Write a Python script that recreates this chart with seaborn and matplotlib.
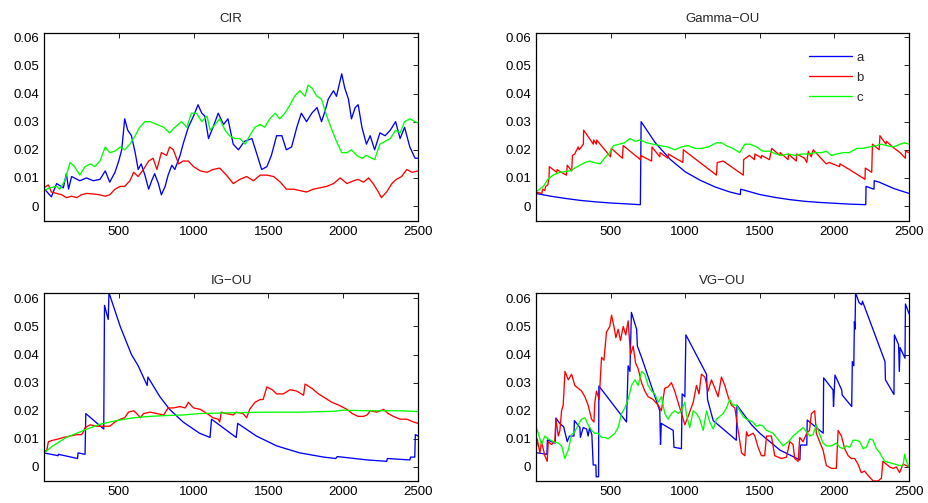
import numpy as np
import pandas as pd
import matplotlib
matplotlib.use("Agg")
import matplotlib.pyplot as plt
import seaborn as sns

# ---------------- CIR ----------------
cir_a_t = [0, 50, 85, 130, 150, 165, 185, 240, 285, 330, 375, 410, 440, 475, 500, 520, 540, 560, 585, 610,
           630, 650, 675, 700, 720, 740, 765, 785, 810, 830, 855, 875, 910, 930, 965, 1000, 1030, 1055, 1075,
           1100, 1130, 1165, 1200, 1230, 1265, 1300, 1340, 1390, 1420, 1455, 1490, 1520, 1555, 1590, 1620,
           1655, 1690, 1720, 1755, 1790, 1825, 1855, 1880, 1900, 1935, 1955, 1990, 2010, 2035, 2055, 2080,
           2100, 2125, 2155, 2180, 2210, 2245, 2280, 2315, 2350, 2380, 2410, 2445, 2480, 2500]
cir_a_v = [0.0063, 0.0033, 0.008, 0.0065, 0.0115, 0.006, 0.0105, 0.009, 0.010, 0.009, 0.0095, 0.0125, 0.0085,
           0.012, 0.016, 0.020, 0.031, 0.027, 0.025, 0.019, 0.013, 0.015, 0.011, 0.006, 0.009, 0.0115, 0.008,
           0.004, 0.007, 0.011, 0.0145, 0.013, 0.018, 0.022, 0.028, 0.032, 0.036, 0.033, 0.032, 0.024, 0.028,
           0.033, 0.029, 0.031, 0.022, 0.020, 0.023, 0.024, 0.019, 0.013, 0.014, 0.018, 0.025, 0.025, 0.020,
           0.021, 0.028, 0.033, 0.030, 0.033, 0.035, 0.030, 0.034, 0.038, 0.041, 0.039, 0.047, 0.042, 0.038,
           0.031, 0.035, 0.036, 0.028, 0.022, 0.025, 0.020, 0.026, 0.025, 0.027, 0.030, 0.024, 0.028, 0.021,
           0.017, 0.017]
cir_b_t = [0, 30, 50, 85, 120, 150, 185, 220, 250, 285, 330, 375, 410, 440, 475, 510, 540, 575, 600, 630,
           665, 700, 730, 755, 785, 820, 840, 865, 900, 930, 965, 1000, 1045, 1090, 1130, 1175, 1220, 1265,
           1310, 1355, 1400, 1445, 1490, 1535, 1580, 1620, 1670, 1710, 1755, 1800, 1845, 1890, 1935, 1980,
           2025, 2070, 2100, 2135, 2170, 2200, 2235, 2255, 2290, 2325, 2355, 2390, 2425, 2460, 2500]
cir_b_v = [0.0065, 0.0075, 0.005, 0.0045, 0.004, 0.003, 0.0035, 0.003, 0.004, 0.0045, 0.0043, 0.004, 0.0035,
           0.004, 0.006, 0.007, 0.007, 0.009, 0.012, 0.0105, 0.013, 0.016, 0.017, 0.013, 0.019, 0.018, 0.021,
           0.020, 0.015, 0.016, 0.016, 0.014, 0.0125, 0.012, 0.013, 0.0135, 0.011, 0.008, 0.0095, 0.0105,
           0.009, 0.011, 0.011, 0.0105, 0.0085, 0.006, 0.006, 0.0055, 0.005, 0.006, 0.0065, 0.007, 0.008,
           0.010, 0.008, 0.009, 0.0095, 0.0085, 0.010, 0.008, 0.005, 0.003, 0.005, 0.008, 0.0095, 0.0105,
           0.013, 0.012, 0.0125]
cir_c_t = [0, 40, 85, 105, 140, 175, 205, 240, 275, 310, 340, 375, 410, 440, 475, 510, 540, 575, 610, 640,
           675, 710, 755, 800, 840, 875, 920, 955, 985, 1020, 1055, 1090, 1110, 1145, 1175, 1210, 1240, 1275,
           1310, 1345, 1375, 1410, 1445, 1475, 1510, 1545, 1575, 1610, 1645, 1675, 1710, 1745, 1765, 1790,
           1825, 1855, 1890, 1925, 1955, 1990, 2025, 2055, 2090, 2125, 2155, 2190, 2210, 2245, 2280, 2315,
           2350, 2380, 2410, 2445, 2480, 2500]
cir_c_v = [0.0055, 0.0065, 0.007, 0.006, 0.009, 0.0155, 0.014, 0.011, 0.014, 0.015, 0.014, 0.016, 0.021,
           0.019, 0.0195, 0.021, 0.020, 0.022, 0.025, 0.028, 0.030, 0.030, 0.029, 0.028, 0.026, 0.028, 0.030,
           0.028, 0.033, 0.033, 0.030, 0.032, 0.027, 0.029, 0.031, 0.027, 0.025, 0.024, 0.024, 0.022, 0.025,
           0.028, 0.029, 0.028, 0.031, 0.033, 0.031, 0.033, 0.036, 0.039, 0.041, 0.039, 0.043, 0.042, 0.039,
           0.038, 0.032, 0.027, 0.023, 0.019, 0.019, 0.020, 0.018, 0.017, 0.018, 0.017, 0.0165, 0.022, 0.023,
           0.024, 0.027, 0.026, 0.030, 0.031, 0.030, 0.0295]

# ---------------- Gamma-OU ----------------
gou_a_t = [0, 100, 200, 300, 400, 500, 600, 700, 705, 800, 900, 1000, 1100, 1200, 1300, 1370, 1372, 1400,
           1500, 1600, 1700, 1800, 1900, 2000, 2100, 2210, 2212, 2265, 2267, 2300, 2400, 2500]
gou_a_v = [0.0045, 0.0035, 0.0027, 0.0020, 0.0015, 0.0011, 0.0008, 0.0005, 0.030, 0.0225, 0.0166, 0.0122,
           0.0092, 0.0068, 0.0050, 0.0041, 0.0060, 0.0056, 0.0041, 0.0031, 0.0023, 0.0017, 0.0013, 0.0010,
           0.0007, 0.0005, 0.0070, 0.0060, 0.0090, 0.0085, 0.0062, 0.0045]
gou_b_t = [0, 40, 45, 60, 65, 80, 88, 90, 140, 142, 170, 205, 210, 240, 245, 260, 283, 290, 318, 320, 385,
           387, 405, 407, 500, 505, 580, 585, 700, 702, 775, 778, 830, 832, 885, 887, 985, 988, 1210, 1215,
           1255, 1390, 1392, 1430, 1465, 1467, 1500, 1510, 1512, 1565, 1580, 1635, 1637, 1690, 1692, 1745,
           1747, 1800, 1815, 1825, 1845, 1858, 1945, 1965, 2035, 2037, 2100, 2205, 2207, 2250, 2255, 2300,
           2305, 2345, 2350, 2390, 2440, 2475, 2477, 2500]
gou_b_v = [0.0050, 0.0045, 0.0060, 0.0055, 0.0070, 0.0075, 0.0100, 0.0140, 0.0120, 0.0130, 0.0120, 0.0110,
           0.0145, 0.0125, 0.0180, 0.0185, 0.0210, 0.0200, 0.0220, 0.0270, 0.0220, 0.0235, 0.0220, 0.0235,
           0.0175, 0.0205, 0.0170, 0.0215, 0.0165, 0.0180, 0.0160, 0.0210, 0.0175, 0.0190, 0.0170, 0.0185,
           0.0155, 0.0200, 0.0110, 0.0155, 0.0160, 0.0110, 0.0165, 0.0180, 0.0165, 0.0185, 0.0175, 0.0170,
           0.0180, 0.0165, 0.0205, 0.0180, 0.0190, 0.0165, 0.0185, 0.0160, 0.0185, 0.0170, 0.0155, 0.0195,
           0.0175, 0.0200, 0.0150, 0.0155, 0.0140, 0.0150, 0.0130, 0.0095, 0.0135, 0.0120, 0.0220, 0.0200,
           0.0250, 0.0220, 0.0230, 0.0210, 0.0190, 0.0170, 0.0195, 0.0190]
gou_c_t = [0, 50, 80, 115, 160, 230, 260, 295, 330, 360, 385, 430, 460, 495, 520, 560, 595, 630, 665, 700,
           740, 785, 830, 885, 930, 975, 1020, 1065, 1110, 1155, 1210, 1245, 1275, 1320, 1365, 1400, 1435,
           1480, 1520, 1565, 1610, 1645, 1690, 1735, 1780, 1825, 1870, 1915, 1945, 1980, 2015, 2060, 2100,
           2150, 2190, 2235, 2280, 2315, 2350, 2395, 2440, 2470, 2500]
gou_c_v = [0.005, 0.007, 0.0095, 0.011, 0.012, 0.0125, 0.0135, 0.0145, 0.0155, 0.016, 0.0155, 0.015, 0.017,
           0.019, 0.0215, 0.022, 0.0225, 0.024, 0.023, 0.0235, 0.0225, 0.022, 0.0215, 0.021, 0.020, 0.021,
           0.0215, 0.0205, 0.0205, 0.021, 0.0225, 0.0225, 0.0215, 0.0205, 0.019, 0.022, 0.022, 0.021, 0.0195,
           0.0195, 0.0185, 0.018, 0.0185, 0.018, 0.0185, 0.0185, 0.019, 0.019, 0.0195, 0.018, 0.0185, 0.019,
           0.019, 0.0205, 0.0205, 0.021, 0.0215, 0.022, 0.0215, 0.021, 0.022, 0.0225, 0.022]

# ---------------- IG-OU ----------------
igou_a_t = [0, 95, 97, 225, 228, 275, 280, 400, 405, 430, 435, 510, 585, 630, 690, 695, 775, 840, 930,
            1040, 1110, 1120, 1285, 1295, 1420, 1555, 1710, 1870, 1950, 1960, 2160, 2290, 2295, 2445, 2450,
            2478, 2482, 2500]
igou_a_v = [0.0050, 0.0040, 0.0045, 0.0030, 0.0050, 0.0045, 0.0190, 0.0135, 0.0575, 0.0525, 0.0620, 0.0500,
            0.0400, 0.0360, 0.0290, 0.0320, 0.0250, 0.0205, 0.0160, 0.0120, 0.0105, 0.0170, 0.0105, 0.0155,
            0.0110, 0.0075, 0.0050, 0.0035, 0.0030, 0.0037, 0.0025, 0.0020, 0.0030, 0.0025, 0.0035, 0.0035,
            0.0115, 0.0110]
igou_b_t = [0, 20, 30, 60, 100, 130, 175, 220, 250, 260, 275, 310, 350, 395, 440, 475, 510, 540, 565, 600,
            620, 645, 665, 710, 755, 800, 830, 865, 910, 945, 965, 1000, 1045, 1090, 1130, 1165, 1175, 1185,
            1220, 1265, 1285, 1330, 1355, 1375, 1410, 1445, 1465, 1490, 1525, 1555, 1600, 1645, 1690, 1735,
            1745, 1790, 1835, 1880, 1925, 1970, 2025, 2060, 2100, 2135, 2160, 2180, 2225, 2270, 2300, 2335,
            2380, 2425, 2470, 2500]
igou_b_v = [0.0055, 0.0060, 0.0090, 0.0095, 0.0100, 0.0105, 0.0110, 0.0115, 0.0115, 0.0120, 0.0140, 0.0150,
            0.0145, 0.0145, 0.0145, 0.0160, 0.0170, 0.0175, 0.0195, 0.0200, 0.0190, 0.0175, 0.0190, 0.0195,
            0.0190, 0.0185, 0.0210, 0.0210, 0.0215, 0.0210, 0.0230, 0.0210, 0.0205, 0.0190, 0.0175, 0.0170,
            0.0160, 0.0195, 0.0190, 0.0185, 0.0195, 0.0190, 0.0175, 0.0205, 0.0230, 0.0240, 0.0240, 0.0285,
            0.0275, 0.0260, 0.0260, 0.0275, 0.0270, 0.0255, 0.0295, 0.0280, 0.0260, 0.0245, 0.0230, 0.0220,
            0.0205, 0.0190, 0.0180, 0.0180, 0.0185, 0.0200, 0.0195, 0.0205, 0.0190, 0.0180, 0.0170, 0.0170,
            0.0160, 0.0155]
igou_c_t = [0, 60, 150, 265, 375, 485, 600, 710, 820, 930, 1040, 1265, 1490, 1710, 1935, 2000, 2160, 2380,
            2500]
igou_c_v = [0.0050, 0.0075, 0.0105, 0.0130, 0.0152, 0.0165, 0.0175, 0.0180, 0.0183, 0.0185, 0.0190, 0.0193,
            0.0195, 0.0195, 0.0198, 0.0202, 0.0200, 0.0200, 0.0197]

# ---------------- VG-OU ----------------
vgou_a_t = [0, 74, 77, 130, 134, 160, 186, 210, 225, 255, 258, 295, 298, 317, 340, 350, 360, 375, 384,
            402, 404, 420, 422, 607, 618, 630, 640, 675, 680, 708, 830, 835, 840, 920, 925, 975, 980, 998,
            1005, 1143, 1150, 1188, 1343, 1347, 1445, 1500, 1635, 1769, 1772, 1815, 1818, 1925, 1928, 1991,
            1994, 2004, 2049, 2052, 2116, 2120, 2130, 2134, 2138, 2142, 2165, 2183, 2188, 2339, 2342, 2399,
            2402, 2430, 2435, 2440, 2473, 2476, 2500]
vgou_a_v = [0.0051, 0.0045, 0.0096, 0.0085, 0.0174, 0.0155, 0.0143, 0.0090, 0.0110, 0.0110, 0.0165, 0.0140,
            0.0105, 0.0140, 0.0135, 0.0110, 0.0140, 0.0115, 0.0007, 0.0007, -0.0035, -0.0035, 0.0288, 0.0160,
            0.0360, 0.0340, 0.0550, 0.0490, 0.0430, 0.0390, 0.0200, 0.0080, 0.0155, 0.0130, 0.0070, 0.0065,
            0.0260, 0.0250, 0.0470, 0.0330, 0.0240, 0.0165, 0.0095, 0.0220, 0.0150, 0.0120, 0.0060, 0.0025,
            0.0078, 0.0078, 0.0167, 0.0120, 0.0317, 0.0274, 0.0215, 0.0327, 0.0274, 0.0256, 0.0215, 0.0375,
            0.0360, 0.0517, 0.0490, 0.0620, 0.0585, 0.0577, 0.0590, 0.0375, 0.0310, 0.0258, 0.0470, 0.0435,
            0.0340, 0.0425, 0.0387, 0.0580, 0.0545]
vgou_b_t = [0, 9, 27, 38, 60, 76, 83, 105, 127, 134, 150, 161, 172, 183, 195, 217, 239, 261, 284, 306, 328,
            350, 373, 389, 395, 406, 424, 440, 456, 473, 495, 507, 523, 536, 551, 567, 585, 602, 618, 634,
            652, 668, 685, 708, 730, 752, 785, 819, 841, 852, 863, 886, 908, 930, 964, 987, 998, 1020, 1054,
            1076, 1093, 1109, 1132, 1154, 1176, 1199, 1221, 1243, 1266, 1288, 1310, 1333, 1355, 1378, 1400,
            1411, 1422, 1455, 1467, 1489, 1511, 1533, 1545, 1578, 1600, 1645, 1679, 1701, 1723, 1734, 1757,
            1768, 1790, 1815, 1833, 1846, 1868, 1879, 1901, 1924, 1946, 1980, 2013, 2025, 2047, 2069, 2092,
            2114, 2136, 2158, 2180, 2203, 2225, 2260, 2292, 2315, 2325, 2348, 2370, 2393, 2415, 2437, 2460,
            2482, 2500]
vgou_b_v = [0.0050, 0.0100, 0.0050, 0.0090, 0.0040, 0.0020, 0.0090, 0.0080, 0.0090, 0.0170, 0.0110, 0.0130,
            0.0200, 0.0220, 0.0340, 0.0310, 0.0330, 0.0290, 0.0280, 0.0270, 0.0250, 0.0220, 0.0170, 0.0160,
            0.0230, 0.0270, 0.0240, 0.0390, 0.0380, 0.0480, 0.0500, 0.0540, 0.0500, 0.0460, 0.0490, 0.0450,
            0.0500, 0.0470, 0.0520, 0.0400, 0.0430, 0.0370, 0.0350, 0.0300, 0.0270, 0.0250, 0.0240, 0.0220,
            0.0200, 0.0240, 0.0280, 0.0285, 0.0300, 0.0270, 0.0210, 0.0170, 0.0150, 0.0180, 0.0230, 0.0290,
            0.0260, 0.0330, 0.0320, 0.0270, 0.0310, 0.0280, 0.0250, 0.0320, 0.0290, 0.0250, 0.0220, 0.0210,
            0.0130, 0.0050, 0.0040, 0.0125, 0.0110, 0.0120, 0.0110, 0.0070, 0.0040, 0.0040, 0.0110, 0.0110,
            0.0040, 0.0030, 0.0035, 0.0090, 0.0080, 0.0030, 0.0020, 0.0105, 0.0090, 0.0120, 0.0130, 0.0190,
            0.0200, 0.0120, 0.0090, 0.0060, 0.0005, -0.0005, -0.0005, 0.0130, 0.0110, 0.0065, 0.0040, 0.0030,
            0.0030, 0.0010, -0.0020, -0.0015, -0.0030, -0.0050, -0.0050, -0.0040, 0.0020, 0.0010, 0.0000,
            -0.0005, 0.0000, -0.0020, 0.0010, 0.0005, 0.0000]
vgou_c_t = [0, 16, 38, 60, 83, 116, 150, 172, 194, 217,
            239, 261, 283, 306, 328, 350, 373, 395, 417, 440,
            462, 484, 507, 529, 551, 574, 596, 618, 641, 663,
            685, 708, 730, 752, 775, 797, 819, 841, 864, 886,
            908, 931, 953, 975, 998, 1009, 1031, 1054, 1076, 1098,
            1121, 1143, 1165, 1188, 1210, 1232, 1255, 1277, 1299, 1321,
            1344, 1366, 1388, 1411, 1433, 1455, 1478, 1500, 1522, 1545,
            1567, 1589, 1612, 1634, 1656, 1679, 1701, 1723, 1746, 1768,
            1790, 1813, 1835, 1857, 1879, 1902, 1924, 1946, 1980, 2013,
            2036, 2058, 2080, 2103, 2125, 2147, 2170, 2192, 2214, 2237,
            2259, 2281, 2304, 2337, 2371, 2404, 2437, 2460, 2471, 2482,
            2500]
vgou_c_v = [0.0145, 0.012, 0.008, 0.011, 0.010, 0.009, 0.0085, 0.0075, 0.003, 0.006,
            0.0115, 0.0125, 0.015, 0.017, 0.0175, 0.015, 0.013, 0.012, 0.012, 0.0105,
            0.0105, 0.010, 0.011, 0.012, 0.014, 0.019, 0.021, 0.024, 0.029, 0.031,
            0.029, 0.034, 0.033, 0.029, 0.027, 0.026, 0.023, 0.025, 0.019, 0.017,
            0.019, 0.020, 0.019, 0.020, 0.023, 0.0185, 0.014, 0.020, 0.019, 0.017,
            0.013, 0.020, 0.016, 0.0135, 0.017, 0.018, 0.019, 0.021, 0.024, 0.022,
            0.022, 0.020, 0.018, 0.017, 0.0165, 0.016, 0.0145, 0.015, 0.0145, 0.013,
            0.0125, 0.012, 0.0105, 0.009, 0.0075, 0.0085, 0.0095, 0.011, 0.012, 0.013,
            0.014, 0.0125, 0.011, 0.0115, 0.015, 0.0115, 0.0085, 0.0075, 0.0075, 0.0085,
            0.007, 0.0065, 0.0075, 0.007, 0.0095, 0.0095, 0.009, 0.0065, 0.007, 0.010,
            0.0095, 0.0065, 0.005, 0.002, 0.0015, 0.001, 0.0005, 0.0005, 0.0045, 0.002,
            0.0]

series_names = ["a", "b", "c"]
line_colors = ["#0000ff", "#ff0000", "#00ff00"]
panel_titles = ["CIR", "Gamma\u2212OU", "IG\u2212OU", "VG\u2212OU"]
panel_data = [
    [(cir_a_t, cir_a_v), (cir_b_t, cir_b_v), (cir_c_t, cir_c_v)],
    [(gou_a_t, gou_a_v), (gou_b_t, gou_b_v), (gou_c_t, gou_c_v)],
    [(igou_a_t, igou_a_v), (igou_b_t, igou_b_v), (igou_c_t, igou_c_v)],
    [(vgou_a_t, vgou_a_v), (vgou_b_t, vgou_b_v), (vgou_c_t, vgou_c_v)],
]
x_ticks = [500, 1000, 1500, 2000, 2500]
y_ticks = [0, 0.01, 0.02, 0.03, 0.04, 0.05, 0.06]
y_tick_labels = ["0", "0.01", "0.02", "0.03", "0.04", "0.05", "0.06"]

sns.set_style("white")
plt.rcParams["font.family"] = ["Liberation Sans", "DejaVu Sans"]
plt.rcParams["axes.unicode_minus"] = True

FS = 9.5
fig = plt.figure(figsize=(9.29, 5.03), dpi=100)
positions = [
    [0.0474, 0.5612, 0.4026, 0.3732],
    [0.5770, 0.5612, 0.4015, 0.3732],
    [0.0474, 0.0443, 0.4026, 0.3726],
    [0.5770, 0.0443, 0.4015, 0.3726],
]
ylims = [(-0.0052, 0.0615), (-0.0052, 0.0615), (-0.0049, 0.0618), (-0.0049, 0.0618)]
title_pads = [8.0, 8.0, 7.0, 7.0]

for k in range(4):
    ax = fig.add_axes(positions[k])
    frames = []
    for name, (t, v) in zip(series_names, panel_data[k]):
        if len(t) != len(v):
            raise ValueError(f"panel {k} series {name}: {len(t)} times vs {len(v)} values")
        frames.append(pd.DataFrame({"t": t, "v": v, "series": name}))
    df = pd.concat(frames, ignore_index=True)
    sns.lineplot(data=df, x="t", y="v", hue="series", hue_order=series_names,
                 palette=line_colors, estimator=None, sort=False, linewidth=0.95,
                 ax=ax, legend=(k == 1))
    ax.set_xlim(1, 2500)
    ax.set_ylim(*ylims[k])
    ax.set_xticks(x_ticks)
    ax.set_xticklabels([str(x) for x in x_ticks])
    ax.set_yticks(y_ticks)
    ax.set_yticklabels(y_tick_labels)
    ax.set_xlabel("")
    ax.set_ylabel("")
    ax.set_title(panel_titles[k], fontsize=FS, pad=title_pads[k])
    ax.tick_params(direction="in", length=3.5, width=0.6, top=True, right=True,
                   labelsize=FS, colors="black", pad=3.5)
    for sp in ax.spines.values():
        sp.set_visible(True)
        sp.set_color("black")
        sp.set_linewidth(0.9)
    if k == 1:
        leg = ax.legend(loc="upper left", frameon=False, fontsize=FS,
                        handlelength=3.25, handletextpad=0.35, labelspacing=0.6,
                        borderaxespad=0.0, bbox_to_anchor=(0.718, 0.93))
        for line in leg.get_lines():
            line.set_linewidth(0.95)

fig.savefig("out.png", dpi=100, facecolor="white")
